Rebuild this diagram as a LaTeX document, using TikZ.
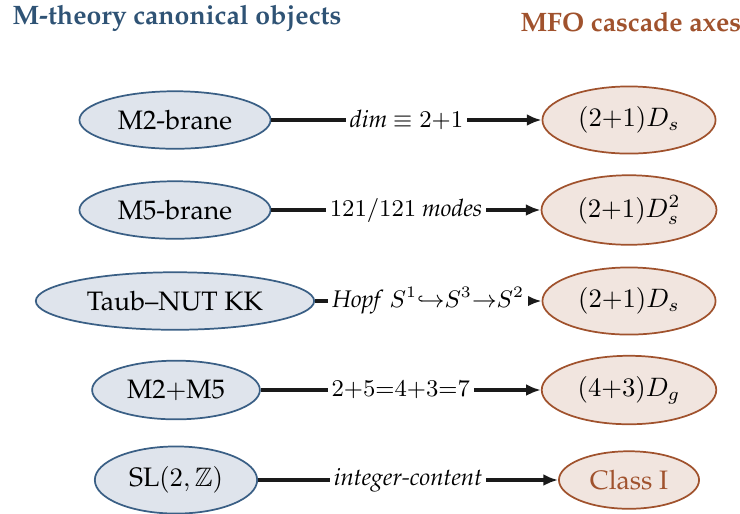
\documentclass[tikz,border=0pt]{standalone}
\usepackage[T1]{fontenc}
\usepackage{amssymb}
\renewcommand{\rmdefault}{ppl}
\usetikzlibrary{shapes.geometric,arrows.meta}

\definecolor{mblue}{HTML}{2F5375}
\definecolor{mblueline}{HTML}{3A5F85}
\definecolor{mbluefill}{HTML}{DFE4EC}
\definecolor{mfobrown}{HTML}{A0522D}
\definecolor{mfofill}{HTML}{F1E5DF}
\definecolor{linkcol}{HTML}{1A1A1A}

\tikzset{
  mobj/.style={ellipse, draw=mblueline, fill=mbluefill, line width=0.65pt,
               inner sep=3.9pt, font=\normalsize},
  mfo/.style={ellipse, draw=mfobrown, fill=mfofill, line width=0.65pt,
              inner sep=3.9pt, font=\normalsize},
  link/.style={draw=linkcol, line width=1.15pt,
               -{Latex[length=5.5pt,width=4.4pt]}},
  lab/.style={fill=white, inner sep=1.5pt, font=\small, midway},
  heading/.style={font=\bfseries, anchor=west, inner sep=0pt}
}

\begin{document}
\begin{tikzpicture}[x=0.375pt, y=-0.375pt]
  \useasboundingbox (0,0) rectangle (740,513);

  % column headings
  \node[heading, text=mblue] (hl) at (12,18) {M-theory canonical objects};
  \node[heading, text=mfobrown] (hr) at (520,22) {MFO cascade axes};

  % M-theory objects
  \node[mobj] (l1) at (175,120) {M2-brane};
  \node[mobj] (l2) at (175,210) {M5-brane};
  \node[mobj] (l3) at (175,301) {Taub--NUT KK};
  \node[mobj] (l4) at (176,390) {M2$+$M5};
  \node[mobj] (l5) at (176,480) {SL$(2,\mathbb{Z})$};

  % MFO cascade axes
  \node[mfo] (r1) at (629,120) {$(2{+}1)D_s$};
  \node[mfo] (r2) at (629,210) {$(2{+}1)D_s^2$};
  \node[mfo] (r3) at (629,301) {$(2{+}1)D_s$};
  \node[mfo] (r4) at (629,390) {$(4{+}3)D_g$};
  \node[mfo, text=mfobrown] (r5) at (629,480) {Class I};

  % correspondences
  \draw[link] (l1) -- node[lab] {\textit{dim} $\equiv 2{+}1$} (r1);
  \draw[link] (l2) -- node[lab] {$121/121$ \textit{modes}} (r2);
  \draw[link] (l3) -- node[lab] {\textit{Hopf} $S^1{\hookrightarrow}S^3{\to}S^2$} (r3);
  \draw[link] (l4) -- node[lab] {$2{+}5{=}4{+}3{=}7$} (r4);
  \draw[link] (l5) -- node[lab] {\textit{integer-content}} (r5);
\end{tikzpicture}
\end{document}
